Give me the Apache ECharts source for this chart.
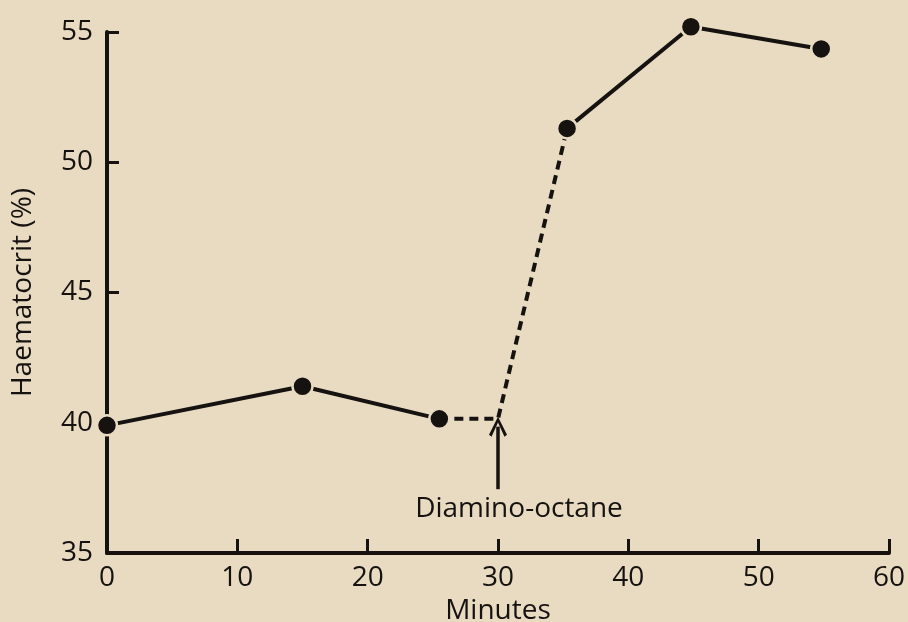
<!DOCTYPE html>
<html>
<head>
<meta charset="utf-8">
<script src="https://cdn.jsdelivr.net/npm/echarts@6/dist/echarts.min.js"></script>
<style>
  html, body { margin: 0; padding: 0; background: #e8dbc2; }
  #chart { width: 908px; height: 622px; }
</style>
</head>
<body>
<div id="chart"></div>
<script>
// Haematocrit readings over time; diamino-octane given at 30 min
const minutes = [0, 15, 25.5, 35.3, 44.8, 54.8];
const haematocrit = [39.9, 41.4, 40.15, 51.3, 55.2, 54.35];
const injectionMinute = 30;
const injectionLabel = 'Diamino-octane';
const arrowFrom = 37.45;
const arrowTo = 39.85;
const xTicks = [0, 10, 20, 30, 40, 50, 60];
const yTicks = [35, 40, 45, 50, 55];

const ink = '#161210';
const paper = '#e8dbc2';
const font = '"Open Sans", "DejaVu Sans", sans-serif';

const pts = minutes.map((m, i) => [m, haematocrit[i]]);
const before = pts.slice(0, 3);
const after = pts.slice(3);
// dashed bridge: last reading before, level until injection, then up to first reading after
const bridge = [pts[2], [injectionMinute, haematocrit[2]], pts[3]];

const chart = echarts.init(document.getElementById('chart'), null, { renderer: 'canvas' });
chart.setOption({
  backgroundColor: paper,
  animation: false,
  grid: { left: 107, right: 19, top: 32, bottom: 69, outerBoundsMode: 'none', containLabel: false },
  xAxis: {
    type: 'value', min: xTicks[0], max: xTicks[xTicks.length - 1], interval: 10,
    name: 'Minutes', nameLocation: 'middle', nameGap: 44,
    nameTextStyle: { color: ink, fontSize: 28, fontFamily: font },
    axisLine: { lineStyle: { color: ink, width: 4 } },
    axisTick: { inside: true, length: 14, lineStyle: { color: ink, width: 3 } },
    axisLabel: { color: ink, fontSize: 28, fontFamily: font, margin: 11 },
    splitLine: { show: false }
  },
  yAxis: {
    type: 'value', min: yTicks[0], max: yTicks[yTicks.length - 1], interval: 5,
    name: 'Haematocrit (%)', nameLocation: 'middle', nameGap: 70,
    nameTextStyle: { color: ink, fontSize: 28, fontFamily: font },
    axisLine: { show: true, lineStyle: { color: ink, width: 4 } },
    axisTick: { show: true, inside: true, length: 12, lineStyle: { color: ink, width: 3 } },
    axisLabel: { color: ink, fontSize: 28, fontFamily: font, margin: 14 },
    splitLine: { show: false }
  },
  series: [
    {
      type: 'line', data: before, showSymbol: false, z: 2, clip: false,
      lineStyle: { color: ink, width: 4 }
    },
    {
      type: 'line', data: bridge, showSymbol: false, z: 2, clip: false,
      lineStyle: { color: ink, width: 4, type: [9, 6] }
    },
    {
      type: 'line', data: after, showSymbol: false, z: 2, clip: false,
      lineStyle: { color: ink, width: 4 }
    },
    {
      type: 'scatter', data: pts, symbol: 'circle', symbolSize: 20, z: 5, clip: false,
      itemStyle: { color: ink, opacity: 1, borderColor: paper, borderWidth: 2.5 },
      emphasis: { disabled: true },
      markLine: {
        silent: true, animation: false,
        symbol: ['none', 'path://M5,0 L10,10 L8.6,11 L5,3.2 L1.4,11 L0,10 Z'],
        symbolSize: [18, 20],
        lineStyle: { color: ink, width: 3.5, type: 'solid' },
        label: { show: false },
        data: [[{ coord: [injectionMinute, arrowFrom] }, { coord: [injectionMinute, arrowTo] }]]
      },
      markPoint: {
        silent: true, animation: false,
        symbol: 'circle', symbolSize: 0,
        label: {
          show: true, position: 'inside', formatter: injectionLabel, offset: [21, 20],
          color: ink, fontSize: 28, fontFamily: font
        },
        data: [{ coord: [injectionMinute, arrowFrom] }]
      }
    }
  ]
});
</script>
</body>
</html>
